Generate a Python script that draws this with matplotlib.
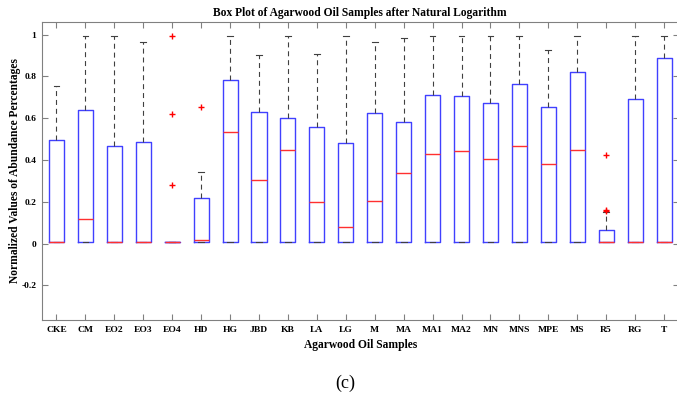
import matplotlib
matplotlib.use('Agg')
import matplotlib.pyplot as plt

# Data (normalized ln abundance)
categories = ['CKE', 'CM', 'EO2', 'EO3', 'EO4', 'HD', 'HG', 'JBD', 'KB', 'LA', 'LG',
              'M', 'MA', 'MA1', 'MA2', 'MN', 'MNS', 'MPE', 'MS', 'R5', 'RG', 'T']
q1 = [0.01] * 22
medians = [0.01, 0.117, 0.01, 0.01, 0.01, 0.019, 0.535, 0.306, 0.449, 0.199, 0.081,
           0.204, 0.336, 0.428, 0.444, 0.406, 0.467, 0.379, 0.446, 0.01, 0.01, 0.01]
q3 = [0.497, 0.640, 0.467, 0.487, 0.01, 0.220, 0.782, 0.630, 0.600, 0.556, 0.482,
      0.626, 0.583, 0.709, 0.704, 0.675, 0.764, 0.653, 0.821, 0.065, 0.692, 0.888]
whisker_low = [0.01] * 22
whisker_high = [0.753, 0.992, 0.992, 0.965, 0.01, 0.342, 0.992, 0.904, 0.992, 0.907, 0.993,
                0.965, 0.984, 0.992, 0.992, 0.992, 0.992, 0.926, 0.992, 0.150, 0.992, 0.992]
outliers = [[], [], [], [], [0.992, 0.619, 0.279], [0.654], [], [], [], [], [],
            [], [], [], [], [], [], [], [], [0.155, 0.161, 0.422], [], []]

serif = ['Liberation Serif', 'DejaVu Serif']

stats = []
for i, name in enumerate(categories):
    stats.append({'label': name, 'q1': q1[i], 'med': medians[i], 'q3': q3[i],
                  'whislo': whisker_low[i], 'whishi': whisker_high[i],
                  'fliers': outliers[i]})

fig = plt.figure(figsize=(6.77, 3.99), dpi=100)
ax = fig.add_axes([42 / 677, 79 / 399, 636.5 / 677, 298 / 399])

ax.bxp(stats, widths=0.52, capwidths=0.2,
       boxprops=dict(color='#4040ff', linewidth=1.0),
       medianprops=dict(color='#ff3030', linewidth=1.0),
       whiskerprops=dict(color='#404040', linewidth=0.8, linestyle=(0, (4.5, 3.5))),
       capprops=dict(color='#404040', linewidth=0.8),
       flierprops=dict(marker='+', markeredgecolor='red', markersize=5, linestyle='none'))

ax.set_xlim(0.5, 22.5)
ax.set_ylim(-0.365, 1.06)
ax.set_yticks([-0.2, 0, 0.2, 0.4, 0.6, 0.8, 1])
ax.set_yticklabels(['-0.2', '0', '0.2', '0.4', '0.6', '0.8', '1'])
ax.set_xticklabels(categories)

for sp in ax.spines.values():
    sp.set_color('#808080')
    sp.set_linewidth(0.8)
ax.tick_params(direction='in', top=True, right=True, length=4, width=0.8,
               color='#808080', labelsize=6.8, pad=4)
for lab in ax.get_xticklabels() + ax.get_yticklabels():
    lab.set_fontfamily(serif)
    lab.set_fontweight('bold')

ax.set_title('Box Plot of Agarwood Oil Samples after Natural Logarithm',
             fontsize=8.3, fontweight='bold', family=serif, pad=4)
ax.set_xlabel('Agarwood Oil Samples', fontsize=8.3, fontweight='bold', family=serif, labelpad=4)
ax.set_ylabel('Normalized Values of Abundance Percentages', fontsize=8.3,
              fontweight='bold', family=serif, labelpad=0)

fig.text(345 / 677, 1 - 383 / 399, '(c)', ha='center', va='center',
         fontsize=13, family=serif)

fig.savefig('out.png', dpi=100)
